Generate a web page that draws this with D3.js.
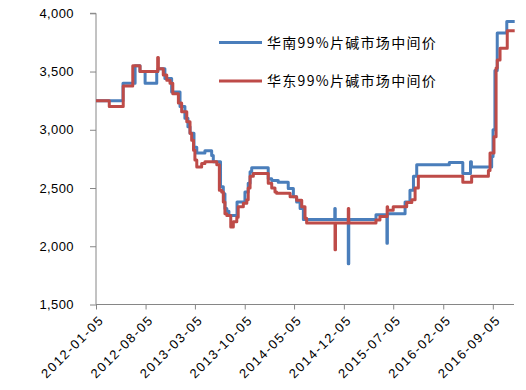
<!DOCTYPE html>
<html><head><meta charset="utf-8">
<script src="https://cdn.jsdelivr.net/npm/d3@7"></script>
<style>
html,body{margin:0;padding:0;background:#fff;}
svg{display:block;}
.tick text{font-family:"Liberation Sans",Arial,sans-serif;font-size:13px;fill:#000;letter-spacing:0.4px;}
.xaxis .tick text{letter-spacing:1.6px;}
</style></head>
<body>
<div id="chart"></div>
<script>
// ---- data ----
const seriesNames = ["华南99%片碱市场中间价", "华东99%片碱市场中间价"];
const xTickLabels = ["2012-01-05","2012-08-05","2013-03-05","2013-10-05","2014-05-05","2014-12-05","2015-07-05","2016-02-05","2016-09-05"];
const yTicks = [1500, 2000, 2500, 3000, 3500, 4000];

const southDates = ["2012-01-05","2012-04-30","2012-06-21","2012-07-12","2012-08-03","2012-09-22","2012-09-27","2012-10-27","2012-11-25","2012-12-31","2013-01-21","2013-02-03","2013-02-12","2013-03-01","2013-03-13","2013-04-17","2013-05-16","2013-05-23","2013-06-23","2013-07-05","2013-07-12","2013-07-20","2013-07-29","2013-09-02","2013-10-06","2013-10-20","2013-10-28","2013-11-04","2014-01-14","2014-01-29","2014-02-26","2014-04-10","2014-05-02","2014-05-16","2014-05-31","2014-06-14","2014-10-27","2014-10-29","2014-12-24","2014-12-26","2015-04-22","2015-06-08","2015-06-10","2015-08-25","2015-09-15","2015-09-30","2015-10-14","2016-03-02","2016-04-29","2016-06-01","2016-06-05","2016-08-31","2016-09-06","2016-09-14","2016-09-24","2016-11-04","2016-12-08"];
const southValues = [3250,3400,3550,3500,3400,3500,3525,3440,3325,3200,3100,3025,2970,2850,2800,2820,2780,2725,2510,2450,2325,2300,2265,2380,2465,2540,2640,2675,2580,2565,2550,2495,2425,2380,2325,2230,2325,2230,1850,2230,2270,2025,2280,2380,2480,2600,2700,2720,2625,2725,2680,2770,3000,3510,3830,3930,3930];

const eastDates = ["2012-01-05","2012-03-02","2012-05-01","2012-06-11","2012-07-12","2012-09-26","2012-09-29","2012-10-20","2012-11-04","2012-11-18","2012-11-30","2012-12-24","2013-01-07","2013-01-29","2013-02-12","2013-02-19","2013-02-27","2013-03-05","2013-03-13","2013-04-03","2013-04-17","2013-06-07","2013-06-18","2013-06-28","2013-07-05","2013-07-12","2013-07-20","2013-08-06","2013-08-17","2013-09-01","2013-09-07","2013-09-29","2013-10-14","2013-10-20","2013-10-28","2013-11-11","2014-01-14","2014-01-29","2014-02-12","2014-02-19","2014-04-18","2014-05-16","2014-06-07","2014-06-21","2014-06-28","2014-10-28","2014-10-30","2014-12-24","2014-12-26","2015-04-22","2015-05-09","2015-06-09","2015-06-11","2015-07-05","2015-09-01","2015-09-23","2015-10-07","2015-10-21","2016-04-29","2016-06-06","2016-08-17","2016-08-24","2016-09-10","2016-09-19","2016-09-24","2016-10-06","2016-11-06","2016-12-08"];
const eastValues = [3250,3200,3375,3550,3500,3620,3525,3470,3425,3400,3310,3230,3155,3070,2970,2910,2825,2740,2680,2710,2725,2700,2480,2465,2380,2280,2265,2165,2210,2250,2340,2370,2400,2500,2600,2625,2540,2500,2465,2455,2425,2395,2340,2240,2200,1970,2200,2325,2200,2225,2255,2340,2310,2340,2375,2400,2500,2600,2550,2600,2650,2800,2940,3530,3600,3700,3850,3850];

const seriesColors = ["#4A7EBB", "#BE4B48"];

// ---- chart ----
const W = 526, H = 390;
const parse = d3.timeParse("%Y-%m-%d");
const svg = d3.select("#chart").append("svg").attr("width", W).attr("height", H);

const x = d3.scaleTime().domain([parse("2012-01-05"), parse("2016-12-05")]).range([96, 514]);
const y = d3.scaleLinear().domain([1500, 4000]).range([304.5, 13.3]);

const fmt = d3.format(",");
const axisColor = "#868686";

// y axis
const gy = svg.append("g").attr("transform", "translate(96,0)")
  .call(d3.axisLeft(y).tickValues(yTicks).tickSize(6).tickPadding(16).tickFormat(fmt));
gy.selectAll("path,line").attr("stroke", axisColor);
gy.select(".domain").attr("d", `M-6,${y(4000)}H0V${y(1500)}`);

// x axis
const gx = svg.append("g").attr("class", "xaxis").attr("transform", `translate(0,${y(1500)})`)
  .call(d3.axisBottom(x).tickValues(xTickLabels.map(parse)).tickSize(5).tickFormat(d3.timeFormat("%Y-%m-%d")));
gx.selectAll("path,line").attr("stroke", axisColor);
gx.select(".domain").attr("d", `M${x.range()[0]},0H${x.range()[1]}`);
gx.selectAll(".tick text")
  .attr("text-anchor", "end")
  .attr("transform", "translate(5,13) rotate(-45)")
  .attr("x", 0).attr("y", 0).attr("dy", "0.35em");

// lines
const line = d3.line().x(d => x(d[0])).y(d => y(d[1])).curve(d3.curveStepAfter);
const seriesData = [
  southDates.map((d, i) => [parse(d), southValues[i]]),
  eastDates.map((d, i) => [parse(d), eastValues[i]])
];
seriesData.forEach((s, i) => {
  svg.append("path").datum(s).attr("d", line)
    .attr("fill", "none").attr("stroke", seriesColors[i])
    .attr("stroke-width", 3).attr("stroke-linejoin", "round");
});

// legend
const legendY = [42.5, 81];
seriesNames.forEach((n, i) => {
  svg.append("line").attr("x1", 219).attr("x2", 262).attr("y1", legendY[i]).attr("y2", legendY[i])
    .attr("stroke", seriesColors[i]).attr("stroke-width", 3);
  svg.append("text").attr("x", 267).attr("y", legendY[i]).attr("dy", "0.36em")
    .attr("font-family", '"Noto Sans CJK SC", sans-serif').attr("font-size", 14)
    .attr("letter-spacing", "1.3px").attr("fill", "#000").text(n);
});
</script>
</body></html>
